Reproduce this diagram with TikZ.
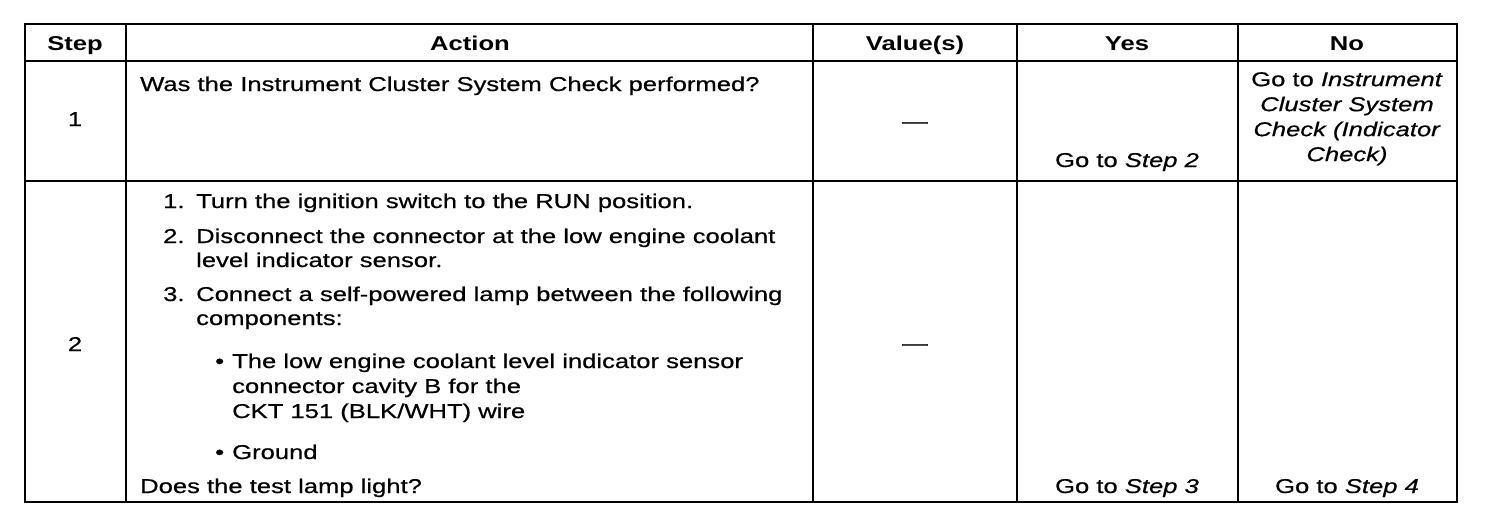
\documentclass[tikz,border=0pt]{standalone}
\usepackage{fontspec}
\setmainfont[FakeStretch=1.28,
  UprightFeatures={FakeBold=0.6},
  ItalicFeatures={FakeBold=0.6}]{Liberation Sans}
\begin{document}
\begin{tikzpicture}[x=1pt,y=-1pt,
  font=\fontsize{20}{25}\selectfont,
  grid/.style={line width=2.8pt, line cap=rect},
  hdr/.style={font=\fontsize{20}{25}\selectfont\bfseries, anchor=base, inner sep=0pt},
  txt/.style={anchor=base west, inner sep=0pt},
  ctr/.style={anchor=base, inner sep=0pt}]
\useasboundingbox (0,0) rectangle (1504,514);
% table grid
\draw[grid] (25,24) rectangle (1457,502);
\draw[grid] (25,61) -- (1457,61);
\draw[grid] (25,181) -- (1457,181);
\foreach \x in {126,813,1017,1238} \draw[grid] (\x,24) -- (\x,502);
% header
\node[hdr] (hstep) at (75,50) {Step};
\node[hdr] (hact) at (470,50) {Action};
\node[hdr] (hval) at (915,50) {Value(s)};
\node[hdr] (hyes) at (1127,50) {Yes};
\node[hdr] (hno) at (1347,50) {No};
% row 1
\node[ctr] (s1) at (75,126) {1};
\node[txt] (a1) at (140,91) {Was the Instrument Cluster System Check performed?};
\node[ctr] (v1) at (915,128) {—};
\node[ctr] (y1) at (1127,167) {Go to \textit{Step 2}};
\node[anchor=north, inner sep=0pt, align=center] (n1) at (1347,72)
  {Go to \textit{Instrument}\\ \textit{Cluster System}\\ \textit{Check (Indicator}\\ \textit{Check)}};
% row 2
\node[ctr] (s2) at (75,351) {2};
\node[txt] (a2n1) at (163,208) {1.};
\node[txt] (a2t1) at (196,208) {Turn the ignition switch to the RUN position.};
\node[txt] (a2n2) at (163,243) {2.};
\node[txt] (a2t2) at (196,243) {Disconnect the connector at the low engine coolant};
\node[txt] (a2t2b) at (196,267) {level indicator sensor.};
\node[txt] (a2n3) at (163,301) {3.};
\node[txt] (a2t3) at (196,301) {Connect a self-powered lamp between the following};
\node[txt] (a2t3b) at (196,325) {components:};
\node[txt] (b1) at (215,368) {\textbullet};
\node[txt] (b1t) at (232,368) {The low engine coolant level indicator sensor};
\node[txt] (b1tb) at (232,393) {connector cavity B for the};
\node[txt] (b1tc) at (232,418) {CKT 151 (BLK/WHT) wire};
\node[txt] (b2) at (215,459) {\textbullet};
\node[txt] (b2t) at (232,459) {Ground};
\node[txt] (a2q) at (140,493) {Does the test lamp light?};
\node[ctr] (v2) at (915,350) {—};
\node[ctr] (y2) at (1127,493) {Go to \textit{Step 3}};
\node[ctr] (n2) at (1347,493) {Go to \textit{Step 4}};
\end{tikzpicture}
\end{document}
